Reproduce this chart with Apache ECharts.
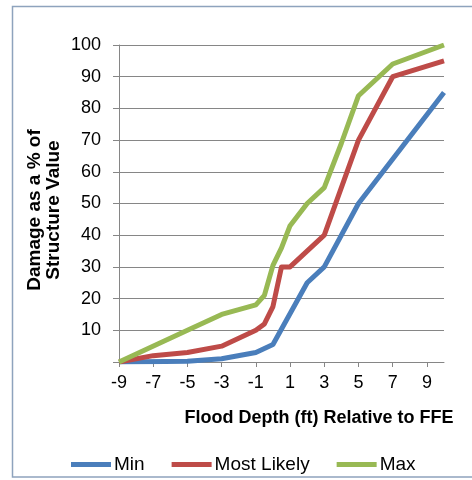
<!DOCTYPE html>
<html>
<head>
<meta charset="utf-8">
<script src="https://cdn.jsdelivr.net/npm/echarts@6/dist/echarts.min.js"></script>
<style>
html,body{margin:0;padding:0;background:#fff;}
#c{width:472px;height:480px;}
</style>
</head>
<body>
<div id="c"></div>
<script>
// Data
var minDepth = [-9, -5, -3, -1, 0, 2, 3, 5, 10];
var minDamage = [0, 0.2, 1, 3, 5.5, 25, 30, 50, 85];

var likelyDepth = [-9, -7, -5, -3, -1, -0.5, 0, 0.5, 1, 3, 5, 7, 10];
var likelyDamage = [0, 2, 3, 5, 10, 12, 17.5, 30, 30, 40, 70, 90, 95];

var maxDepth = [-9, -5, -3, -1, -0.5, 0, 0.5, 1, 2, 3, 4, 5, 7, 10];
var maxDamage = [0, 10, 15, 18, 21, 30.5, 36, 43, 50, 55, 69, 84, 94, 100];

var xTickLabels = [-9, -7, -5, -3, -1, 1, 3, 5, 7, 9];
var seriesNames = ['Min', 'Most Likely', 'Max'];
var seriesColors = ['#4a7ebb', '#be4b48', '#98b954'];

function pairs(xs, ys) {
  return xs.map(function (x, i) { return [x, ys[i]]; });
}

var FONT = '"Liberation Sans", Arial, sans-serif';
var chart = echarts.init(document.getElementById('c'), null, {renderer: 'canvas'});

var seriesData = [pairs(minDepth, minDamage), pairs(likelyDepth, likelyDamage), pairs(maxDepth, maxDamage)];

chart.setOption({
  animation: false,
  backgroundColor: '#ffffff',
  textStyle: {fontFamily: FONT},
  grid: {left: 119, top: 45, right: 28, bottom: 118, containLabel: false},
  xAxis: {
    type: 'value',
    min: -9,
    max: 10,
    interval: 2,
    axisLine: {show: true, onZero: false, lineStyle: {color: '#868686', width: 1}},
    axisTick: {show: true, inside: false, length: 5, lineStyle: {color: '#868686'}, customValues: xTickLabels},
    axisLabel: {color: '#000', fontSize: 18, fontFamily: FONT, margin: 12, customValues: xTickLabels},
    splitLine: {show: false}
  },
  yAxis: {
    type: 'value',
    min: 0,
    max: 100,
    interval: 10,
    axisLine: {show: true, onZero: false, lineStyle: {color: '#868686', width: 1}},
    axisTick: {show: true, inside: false, length: 6, lineStyle: {color: '#868686'}},
    axisLabel: {
      color: '#000', fontSize: 18, fontFamily: FONT, margin: 18,
      formatter: function (v) { return v === 0 ? '' : String(v); }
    },
    splitLine: {show: true, lineStyle: {color: '#868686', width: 1}}
  },
  legend: {
    left: 66,
    top: 450,
    itemGap: 27,
    itemWidth: 40,
    itemHeight: 5,
    icon: 'rect',
    textStyle: {color: '#000', fontSize: 19, fontFamily: FONT, padding: [0, 0, 0, -2]},
    data: seriesNames
  },
  graphic: [
    {
      type: 'rect', silent: true, z: -1,
      shape: {x: 12.5, y: 6.5, width: 480, height: 470.5},
      style: {fill: 'none', stroke: '#8ea3bd', lineWidth: 1.5}
    },
    {
      type: 'text', silent: true,
      x: 44, y: 210, rotation: Math.PI / 2,
      style: {
        text: 'Damage as a % of\nStructure Value',
        font: 'bold 19px ' + FONT,
        fill: '#000',
        align: 'center', verticalAlign: 'middle', lineHeight: 19
      }
    },
    {
      type: 'text', silent: true,
      x: 319, y: 418,
      style: {
        text: 'Flood Depth (ft) Relative to FFE',
        font: 'bold 18px ' + FONT,
        fill: '#000',
        align: 'center', verticalAlign: 'middle'
      }
    }
  ],
  series: seriesNames.map(function (name, i) {
    return {
      name: name,
      type: 'line',
      data: seriesData[i],
      showSymbol: false,
      symbol: 'none',
      smooth: false,
      lineStyle: {color: seriesColors[i], width: 5, join: 'round'},
      itemStyle: {color: seriesColors[i]},
      z: 2 + i
    };
  })
});
</script>
</body>
</html>
